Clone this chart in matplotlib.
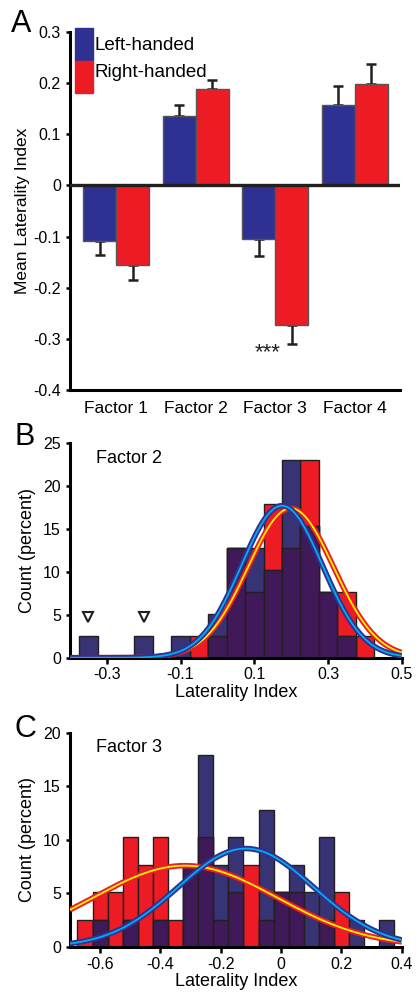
import numpy as np
import matplotlib
matplotlib.use("Agg")
import matplotlib.pyplot as plt
from matplotlib.patches import Rectangle

plt.rcParams['font.family'] = ['Liberation Sans', 'DejaVu Sans']

# Panel A: mean laterality index per factor
factors = ['Factor 1', 'Factor 2', 'Factor 3', 'Factor 4']
left_mean = [-0.108, 0.135, -0.105, 0.157]
left_err = [0.027, 0.023, 0.033, 0.038]
right_mean = [-0.155, 0.189, -0.273, 0.199]
right_err = [0.030, 0.018, 0.036, 0.039]

# Panel B: Factor 2 histogram (percent), bin centres
f2_bins = [-0.35, -0.30, -0.25, -0.20, -0.15, -0.10, -0.05, 0.00, 0.05,
           0.10, 0.15, 0.20, 0.25, 0.30, 0.35, 0.40]
f2_left = [2.56, 0, 0, 2.56, 0, 2.56, 0, 5.13, 12.82,
           12.82, 10.26, 23.08, 15.38, 7.69, 2.56, 0]
f2_right = [0, 0, 0, 0, 0, 0, 2.56, 2.56, 12.82,
            7.69, 17.95, 12.82, 23.08, 7.69, 7.69, 2.56]
f2_outliers = [-0.35, -0.20]
# gaussian fits: peak, mean, sd
f2_left_fit = (17.7, 0.175, 0.110)
f2_right_fit = (17.4, 0.199, 0.116)

# Panel C: Factor 3 histogram (percent)
f3_bins = [-0.65, -0.60, -0.55, -0.50, -0.45, -0.40, -0.35, -0.30, -0.25,
           -0.20, -0.15, -0.10, -0.05, 0.00, 0.05, 0.10, 0.15, 0.20,
           0.25, 0.30, 0.35]
f3_left = [0, 2.56, 0, 2.56, 0, 2.56, 0, 7.69, 17.95,
           7.69, 10.26, 0, 12.82, 5.13, 7.69, 5.13, 10.26, 0,
           2.56, 0, 2.56]
f3_right = [2.56, 5.13, 5.13, 10.26, 7.69, 10.26, 2.56, 7.69, 10.26,
            2.56, 5.13, 7.69, 2.56, 5.13, 5.13, 0, 2.56, 5.13,
            0, 0, 0]
f3_left_fit = (9.2, -0.117, 0.225)
f3_right_fit = (7.6, -0.318, 0.305)

BLUE = '#2e3192'
RED = '#ed1c24'
HBLUE = '#373374'
PURPLE = '#401a58'

fig = plt.figure(figsize=(4.16, 9.94), dpi=100)


def style_axis(ax):
    for s in ['top', 'right']:
        ax.spines[s].set_visible(False)
    ax.spines['left'].set_linewidth(2.2)
    ax.spines['bottom'].set_linewidth(2.2)
    ax.tick_params(labelsize=11.5, width=1.8, length=3, direction='out')


# ---- Panel A ----
axA = fig.add_axes([0.168, 0.6076, 0.794, 0.3602])
x = np.arange(len(factors))
w = 0.415
axA.bar(x - w / 2, left_mean, w, color=BLUE, edgecolor='#555555', lw=1, zorder=2)
axA.bar(x + w / 2, right_mean, w, color=RED, edgecolor='#555555', lw=1, zorder=2)
lerr = np.array(left_err)
rerr = np.array(right_err)
lneg = np.array(left_mean) < 0
rneg = np.array(right_mean) < 0
axA.errorbar(x - w / 2, left_mean, yerr=[lerr * lneg, lerr * ~lneg], fmt='none',
             ecolor='#231f20', elinewidth=1.8, capsize=3.5, capthick=1.8, zorder=1)
axA.errorbar(x + w / 2, right_mean, yerr=[rerr * rneg, rerr * ~rneg], fmt='none',
             ecolor='#231f20', elinewidth=1.8, capsize=3.5, capthick=1.8, zorder=1)
axA.axhline(0, color='#231f20', lw=2.4, zorder=3)
axA.set_xlim(-0.58, 3.57)
axA.set_ylim(-0.4, 0.3)
axA.set_yticks([-0.4, -0.3, -0.2, -0.1, 0, 0.1, 0.2, 0.3])
axA.set_yticklabels(['-0.4', '-0.3', '-0.2', '-0.1', '0', '0.1', '0.2', '0.3'])
axA.set_xticks(x)
axA.set_xticklabels(factors, fontsize=12.5)
style_axis(axA)
axA.tick_params(axis='x', length=0, pad=8, labelsize=12.5)
axA.set_ylabel('Mean Laterality Index', fontsize=12.5, labelpad=2)
axA.text(2 - 0.09, -0.327, '***', ha='center', va='center', fontsize=16, color='#231f20')
# legend
axA.add_patch(Rectangle((0.015, 0.92), 0.055, 0.09, transform=axA.transAxes,
                        color=BLUE, clip_on=False, zorder=4))
axA.add_patch(Rectangle((0.015, 0.83), 0.055, 0.09, transform=axA.transAxes,
                        color=RED, clip_on=False, zorder=4))
axA.text(0.076, 0.963, 'Left-handed', transform=axA.transAxes, fontsize=13.5, va='center')
axA.text(0.076, 0.888, 'Right-handed', transform=axA.transAxes, fontsize=13.5, va='center')
fig.text(0.05, 0.976, 'A', fontsize=22, ha='center', va='center')


def gauss(xs, fit):
    peak, mu, sd = fit
    return peak * np.exp(-(xs - mu) ** 2 / (2 * sd ** 2))


def hist_panel(ax, bins, left, right, lfit, rfit, xlim, ylim, xticks, yticks, title):
    left = np.array(left)
    right = np.array(right)
    both = np.minimum(left, right)
    ax.bar(bins, right, 0.05, color=RED, edgecolor='#231f20', lw=1, zorder=2)
    ax.bar(bins, left, 0.05, color=HBLUE, edgecolor='#231f20', lw=1, zorder=2)
    ax.bar(bins, both, 0.05, color=PURPLE, edgecolor='#231f20', lw=1, zorder=2)
    xs = np.linspace(xlim[0], xlim[1], 300)
    ax.plot(xs, gauss(xs, rfit), color=RED, lw=4, zorder=3, solid_capstyle='butt')
    ax.plot(xs, gauss(xs, rfit), color='#fff200', lw=1.3, zorder=3)
    ax.plot(xs, gauss(xs, lfit), color=BLUE, lw=4, zorder=4, solid_capstyle='butt')
    ax.plot(xs, gauss(xs, lfit), color='#00aeef', lw=1.3, zorder=4)
    ax.set_xlim(xlim)
    ax.set_ylim(ylim)
    ax.set_xticks(xticks)
    ax.set_xticklabels([('%g' % t) for t in xticks])
    ax.set_yticks(yticks)
    style_axis(ax)
    ax.tick_params(axis='x', length=4, pad=3)
    ax.set_xlabel('Laterality Index', fontsize=13, labelpad=1)
    ax.set_ylabel('Count (percent)', fontsize=13, labelpad=5)
    ax.text(0.08, 0.93, title, transform=ax.transAxes, fontsize=13, va='center')


# ---- Panel B ----
axB = fig.add_axes([0.168, 0.3383, 0.798, 0.216])
hist_panel(axB, f2_bins, f2_left, f2_right, f2_left_fit, f2_right_fit,
           (-0.4, 0.5), (0, 25), [-0.3, -0.1, 0.1, 0.3, 0.5], [0, 5, 10, 15, 20, 25],
           'Factor 2')
axB.plot(f2_outliers, [4.7] * len(f2_outliers), 'v', mfc='white', mec='#231f20',
         mew=1.5, ms=7, zorder=5)
fig.text(0.058, 0.560, 'B', fontsize=22, ha='center', va='center')

# ---- Panel C ----
axC = fig.add_axes([0.168, 0.0473, 0.798, 0.2153])
hist_panel(axC, f3_bins, f3_left, f3_right, f3_left_fit, f3_right_fit,
           (-0.7, 0.4), (0, 20), [-0.6, -0.4, -0.2, 0, 0.2, 0.4], [0, 5, 10, 15, 20],
           'Factor 3')
fig.text(0.06, 0.267, 'C', fontsize=22, ha='center', va='center')

fig.savefig('out.png', dpi=100)
